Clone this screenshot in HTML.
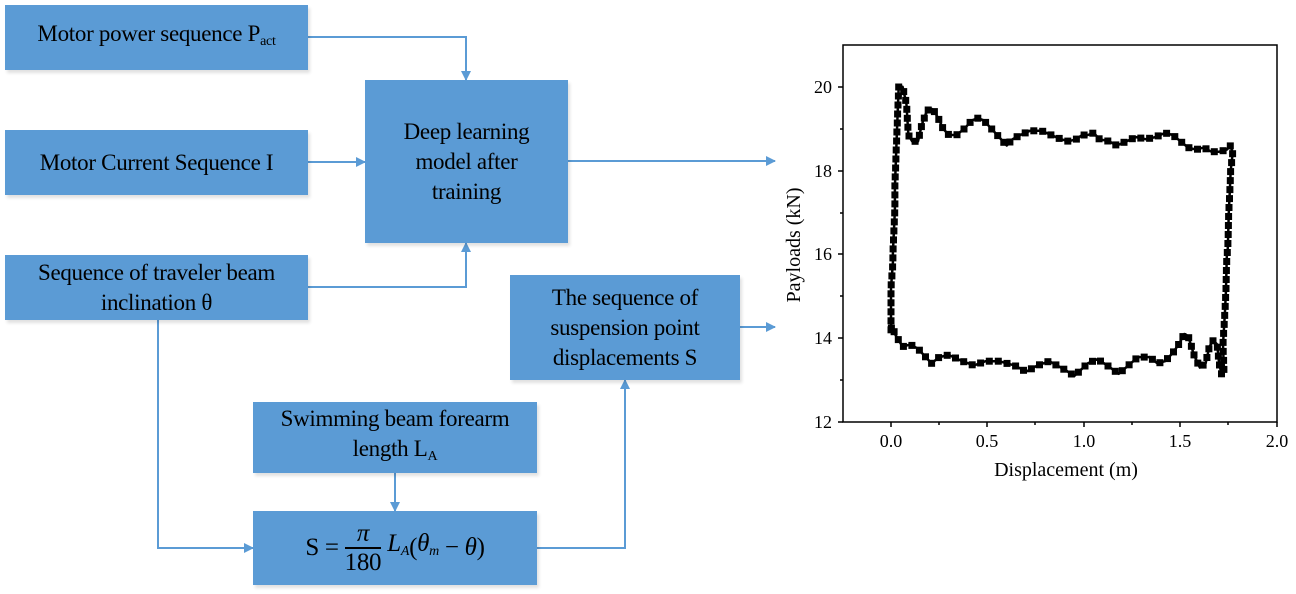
<!DOCTYPE html>
<html><head><meta charset="utf-8"><style>
body{margin:0;width:1296px;height:594px;background:#fff;overflow:hidden;position:relative;font-family:"Liberation Serif",serif;}
.b{position:absolute;background:#5b9bd5;color:#000;display:flex;align-items:center;justify-content:center;text-align:center;font-size:23px;line-height:30px;box-shadow:2px 3px 3px rgba(0,0,0,0.12);letter-spacing:-0.3px;}
svg{position:absolute;left:0;top:0;}
sub{font-size:14px;vertical-align:-4px;}
</style></head><body>
<svg width="1296" height="594" id="s">
<defs><marker id="ar" markerWidth="10" markerHeight="10" refX="9" refY="5" orient="auto" markerUnits="userSpaceOnUse"><path d="M0,0L10,5L0,10z" fill="#5b9bd5"/></marker></defs>
<g fill="none" stroke="#5b9bd5" stroke-width="2">
<path d="M308,37H466V80" marker-end="url(#ar)"/>
<path d="M308,162H365" marker-end="url(#ar)"/>
<path d="M308,287H466V243" marker-end="url(#ar)"/>
<path d="M568,161H775" marker-end="url(#ar)"/>
<path d="M740,327H775" marker-end="url(#ar)"/>
<path d="M158,320V548H253" marker-end="url(#ar)"/>
<path d="M395,473V511" marker-end="url(#ar)"/>
<path d="M537,548H625V380" marker-end="url(#ar)"/>
</g>
<g stroke="#000" stroke-width="1.5" fill="none">
<rect x="843" y="45" width="434" height="377"/>
<path d="M843,87h-5M843,171h-5M843,254h-5M843,338h-5M843,422h-5M843,129h-3M843,213h-3M843,296h-3M843,380h-3M891,422v5M987,422v5M1084,422v5M1180,422v5M1277,422v5M939,422v3M1035,422v3M1132,422v3M1228,422v3"/>
</g>
<g font-family="Liberation Serif,serif" font-size="18" fill="#000">
<text x="832" y="93" text-anchor="end">20</text><text x="832" y="177" text-anchor="end">18</text><text x="832" y="260" text-anchor="end">16</text><text x="832" y="344" text-anchor="end">14</text><text x="832" y="428" text-anchor="end">12</text>
<text x="891" y="447" text-anchor="middle">0.0</text><text x="987" y="447" text-anchor="middle">0.5</text><text x="1084" y="447" text-anchor="middle">1.0</text><text x="1180" y="447" text-anchor="middle">1.5</text><text x="1277" y="447" text-anchor="middle">2.0</text>
<text x="1066" y="476" text-anchor="middle" font-size="20">Displacement (m)</text>
<text transform="translate(800,245) rotate(-90)" text-anchor="middle" font-size="20">Payloads (kN)</text>
</g>
<g id="data"></g>
</svg>
<div class="b" style="left:5px;top:5px;width:303px;height:65px;"><span>Motor power sequence P<sub>act</sub></span></div>
<div class="b" style="left:5px;top:130px;width:303px;height:65px;"><span>Motor Current Sequence I</span></div>
<div class="b" style="left:5px;top:255px;width:303px;height:65px;"><span>Sequence of traveler beam<br>inclination θ</span></div>
<div class="b" style="left:365px;top:80px;width:203px;height:163px;"><span>Deep learning<br>model after<br>training</span></div>
<div class="b" style="left:510px;top:275px;width:230px;height:105px;"><span>The sequence of<br>suspension point<br>displacements S</span></div>
<div class="b" style="left:253px;top:402px;width:284px;height:71px;"><span>Swimming beam forearm<br>length L<sub>A</sub></span></div>
<div class="b" style="left:253px;top:511px;width:284px;height:74px;font-size:25px;"><span style="display:inline-flex;align-items:center">S =&nbsp;<span style="display:inline-flex;flex-direction:column;line-height:27px;text-align:center"><span style="border-bottom:2px solid #000;font-style:italic">π</span><span>180</span></span><i>&nbsp;L<sub>A</sub></i>(<i>θ<sub>m</sub></i>&nbsp;−&nbsp;<i>θ</i>)</span></div>
<script>
var p=[[0,14.2],[0,14.8],[0,15.2],[0.01,15.8],[0.01,16.05],[0.02,17.05],[0.02,17.6],[0.03,18.85],[0.04,20],[0.05,20],[0.06,20],[0.07,19.8],[0.08,19.6],[0.09,18.85],[0.11,18.7],[0.14,18.7],[0.16,19.1],[0.18,19.35],[0.2,19.5],[0.22,19.45],[0.25,19.2],[0.27,19.0],[0.3,18.85],[0.34,18.85],[0.38,19.0],[0.42,19.2],[0.45,19.25],[0.48,19.2],[0.52,19.0],[0.56,18.8],[0.6,18.6],[0.63,18.75],[0.67,18.85],[0.72,18.95],[0.78,18.95],[0.83,18.85],[0.88,18.75],[0.92,18.7],[0.96,18.75],[0.99,18.85],[1.02,18.85],[1.05,18.9],[1.08,18.75],[1.13,18.7],[1.17,18.6],[1.22,18.7],[1.27,18.8],[1.32,18.75],[1.37,18.8],[1.42,18.9],[1.46,18.85],[1.5,18.7],[1.54,18.55],[1.58,18.5],[1.62,18.55],[1.66,18.45],[1.7,18.45],[1.74,18.5],[1.76,18.6],[1.77,18.4],[1.76,18],[1.755,17.45],[1.75,17],[1.745,16.15],[1.74,15.95],[1.735,15.1],[1.73,14.6],[1.72,13.85],[1.725,13.25],[1.715,13.1],[1.7,13.4],[1.69,13.85],[1.67,13.95],[1.65,13.8],[1.63,13.4],[1.6,13.3],[1.57,13.6],[1.54,14.05],[1.52,14.1],[1.49,13.85],[1.46,13.65],[1.42,13.45],[1.38,13.4],[1.34,13.55],[1.28,13.55],[1.23,13.35],[1.18,13.15],[1.12,13.35],[1.07,13.5],[1.02,13.4],[0.95,13.1],[0.9,13.25],[0.82,13.45],[0.76,13.35],[0.7,13.2],[0.64,13.35],[0.56,13.45],[0.49,13.45],[0.43,13.35],[0.37,13.45],[0.3,13.6],[0.25,13.55],[0.21,13.4],[0.18,13.55],[0.14,13.75],[0.1,13.85],[0.06,13.8],[0.04,13.95],[0.02,14.1],[0.005,14.3],[0,14.2]];
var pts=[],h='';
for(var i=0;i<p.length;i++){pts.push([891+193*p[i][0],924.8-41.9*p[i][1]]);}
var d='M'+pts.map(function(q){return q[0].toFixed(1)+','+q[1].toFixed(1)}).join('L');
h+='<path d="'+d+'" fill="none" stroke="#000" stroke-width="2.5" stroke-linejoin="round"/>';
var S=9,acc=S;
for(var i=0;i<pts.length-1;i++){var a=pts[i],b=pts[i+1],L=Math.hypot(b[0]-a[0],b[1]-a[1]);if(L<0.01)continue;var t=0;while(true){var need=S-acc;if(t+need>L){acc+=L-t;break;}t+=need;acc=0;var x=a[0]+(b[0]-a[0])*t/L,y=a[1]+(b[1]-a[1])*t/L;h+='<rect x="'+(x-3.5).toFixed(1)+'" y="'+(y-3.5).toFixed(1)+'" width="7" height="7" fill="#000"/>';}}
document.getElementById('data').innerHTML=h;
</script>
</body></html>
